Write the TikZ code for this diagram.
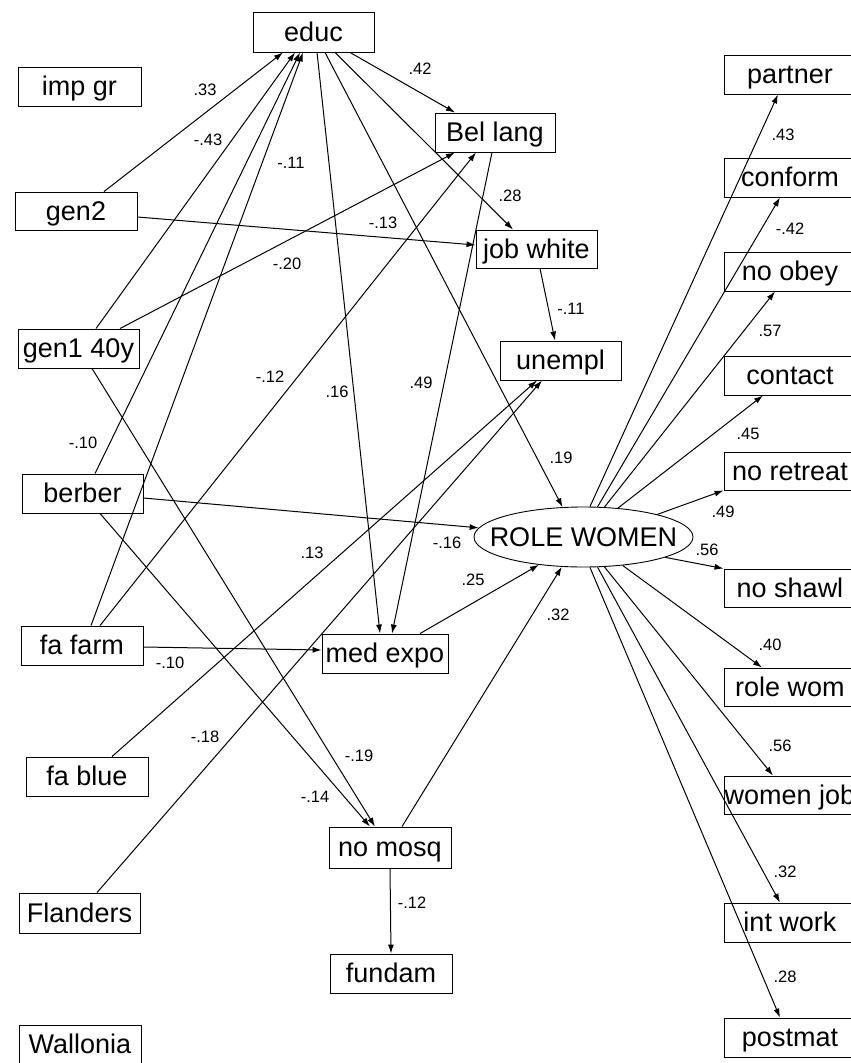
\documentclass[tikz,border=0pt]{standalone}
\usepackage{fontspec}
\setmainfont{Liberation Sans}
\usetikzlibrary{arrows.meta,shapes.geometric}
\begin{document}
\begin{tikzpicture}[x=1pt,y=-1pt,
  var/.style={draw, line width=0.9pt, minimum height=39pt, minimum width=122pt,
    inner sep=0pt, text height=22pt, text depth=4pt, font=\fontsize{27}{27}\selectfont},
  ind/.style={var, minimum width=132pt},
  lat/.style={ellipse, draw, line width=0.9pt, minimum width=219pt, minimum height=60pt,
    inner sep=0pt, text height=22pt, text depth=4pt, font=\fontsize{27}{27}\selectfont},
  arr/.style={line width=1pt, -{Latex[length=9pt,width=6pt]}},
  coef/.style={inner sep=0pt, font=\fontsize{16.5}{16.5}\selectfont}]
\useasboundingbox (0,0) rectangle (851,1063);
\clip (0,0) rectangle (851,1063);

% exogenous variables
\node[var, minimum width=123pt] (impgr) at (79.5,86.5) {imp gr};
\node[var, minimum height=38pt] (gen2) at (76,211) {gen2};
\node[var, minimum width=121pt] (gen1) at (78.5,348.5) {gen1 40y};
\node[var, minimum width=121pt] (berber) at (82.5,493.5) {berber};
\node[var] (fafarm) at (82,645.5) {fa farm};
\node[var] (fablue) at (87,776.5) {fa blue};
\node[var, minimum width=121pt, minimum height=40pt] (flanders) at (79.5,913) {Flanders};
\node[var, minimum height=38pt] (wallonia) at (80,1044) {Wallonia};

% intermediate variables
\node[var, minimum width=121pt, minimum height=40pt] (educ) at (313.5,32) {educ};
\node[var, minimum width=120pt] (bellang) at (495,132.5) {Bel lang};
\node[var, minimum width=121pt, minimum height=38pt] (jobwhite) at (536.5,249) {job white};
\node[var, minimum width=121pt] (unempl) at (560.5,360.5) {unempl};
\node[var, minimum width=126pt] (medexpo) at (385,653.5) {med expo};
\node[var, minimum height=41pt] (nomosq) at (390,847.5) {no mosq};
\node[var] (fundam) at (391,973.5) {fundam};

% latent factor
\node[lat] (rw) at (583.5,537) {\makebox[0pt]{ROLE WOMEN}};

% indicators (boxes run past the right edge)
\node[ind] (partner) at (790,74.5) {partner};
\node[ind] (conform) at (790,177.5) {conform};
\node[ind] (noobey) at (790,271.5) {no obey};
\node[ind] (contact) at (790,375.5) {contact};
\node[ind, minimum height=38pt] (noretreat) at (790,471) {no retreat};
\node[ind, minimum height=38pt] (noshawl) at (790,588) {no shawl};
\node[ind, minimum height=38pt] (rolewom) at (790,687) {role wom};
\node[ind, minimum height=38pt] (womenjob) at (790,795) {women job};
\node[ind] (intwork) at (790,922.5) {int work};
\node[ind] (postmat) at (790,1037.5) {postmat};

% paths into educ
\draw[arr] ([xshift=28]gen2.north) -- ([xshift=-30.5]educ.south);
\draw[arr] ([xshift=17.5]gen1.north) -- ([xshift=-18.5]educ.south);
\draw[arr] ([xshift=12.5]berber.north) -- ([xshift=-13.5]educ.south);
\draw[arr] ([xshift=9]fafarm.north) -- ([xshift=-10.5]educ.south);

% paths into Bel lang and job white
\draw[arr] ([xshift=41.5]gen1.north) -- ([xshift=-40]bellang.south);
\draw[arr] ([xshift=18]fafarm.north) -- ([xshift=-19]bellang.south);
\draw[arr] ([xshift=36.5]educ.south) -- ([xshift=-40]bellang.north);
\draw[arr] ([yshift=-6]gen2.east) -- ([yshift=4]jobwhite.west);
\draw[arr] ([xshift=21.5]educ.south) -- ([xshift=-23.5]jobwhite.north);

% paths into unempl
\draw[arr] ([xshift=3.5]jobwhite.south) -- ([xshift=-5.5]unempl.north);
\draw[arr] ([xshift=25]fablue.north) -- ([xshift=-23.5]unempl.south);
\draw[arr] ([xshift=17.5]flanders.north) -- ([xshift=-18.5]unempl.south);

% paths into med expo
\draw[arr] ([xshift=3.5]educ.south) -- ([xshift=-5]medexpo.north);
\draw[arr] ([xshift=-3]bellang.south) -- ([xshift=7]medexpo.north);
\draw[arr] ([yshift=-1.5]fafarm.east) -- ([yshift=3.5]medexpo.west);

% paths into no mosq and fundam
\draw[arr] ([xshift=17.5]berber.south) -- ([xshift=-20]nomosq.north);
\draw[arr] ([xshift=13.5]gen1.south) -- ([xshift=-15]nomosq.north);
\draw[arr] (nomosq.south) -- (fundam.north);

% paths into ROLE WOMEN
\draw[arr] ([xshift=11.5]educ.south) -- (rw.125);
\draw[arr] ([yshift=-4.5]berber.east) -- (rw.175);
\draw[arr] ([xshift=35]medexpo.north) -- (rw.212);
\draw[arr] ([xshift=12]nomosq.north) -- (rw.234);

% loadings
\draw[arr] (rw.78) -- ([xshift=-12]partner.south);
\draw[arr] (rw.65) -- ([xshift=-10]conform.south);
\draw[arr] (rw.55) -- ([xshift=-15]noobey.south);
\draw[arr] (rw.40) -- ([xshift=-27]contact.south);
\draw[arr] (rw.17) -- (noretreat.south west);
\draw[arr] (rw.346) -- (noshawl.north west);
\draw[arr] (rw.324) -- ([xshift=-28]rolewom.north);
\draw[arr] (rw.305) -- ([xshift=-17]womenjob.north);
\draw[arr] (rw.295) -- ([xshift=-10]intwork.north);
\draw[arr] (rw.282) -- ([xshift=-10]postmat.north);

% coefficients
\node[coef] (c1) at (205,90) {.33};
\node[coef] (c2) at (208,140) {-.43};
\node[coef] (c3) at (83,443) {-.10};
\node[coef] (c4) at (291,163) {-.11};
\node[coef] (c5) at (287,264) {-.20};
\node[coef] (c6) at (270,377) {-.12};
\node[coef] (c7) at (383,223) {-.13};
\node[coef] (c8) at (420,69) {.42};
\node[coef] (c9) at (510,196) {.28};
\node[coef] (c10) at (561,458) {.19};
\node[coef] (c11) at (337,392) {.16};
\node[coef] (c12) at (421,383) {.49};
\node[coef] (c13) at (571,309) {-.11};
\node[coef] (c14) at (312,553) {.13};
\node[coef] (c15) at (205,737) {-.18};
\node[coef] (c16) at (447,543) {-.16};
\node[coef] (c17) at (315,797) {-.14};
\node[coef] (c18) at (359,756) {-.19};
\node[coef] (c19) at (170,663) {-.10};
\node[coef] (c20) at (473,580) {.25};
\node[coef] (c21) at (558,615) {.32};
\node[coef] (c22) at (412,903) {-.12};
\node[coef] (c23) at (783,135) {.43};
\node[coef] (c24) at (790,229) {-.42};
\node[coef] (c25) at (770,331) {.57};
\node[coef] (c26) at (748,434) {.45};
\node[coef] (c27) at (723,512) {.49};
\node[coef] (c28) at (707,550) {.56};
\node[coef] (c29) at (770,645) {.40};
\node[coef] (c30) at (780,746) {.56};
\node[coef] (c31) at (785,872) {.32};
\node[coef] (c32) at (785,977) {.28};
\end{tikzpicture}
\end{document}
